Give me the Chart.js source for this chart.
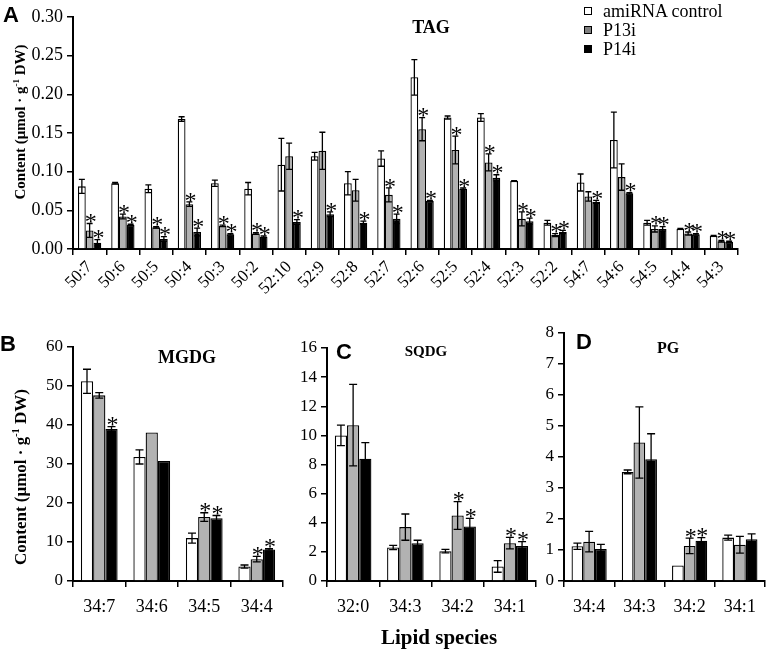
<!DOCTYPE html>
<html>
<head>
<meta charset="utf-8">
<script src="https://cdn.jsdelivr.net/npm/chart.js@4.4.0/dist/chart.umd.min.js"></script>
<style>
  body { margin: 0; background: #fff; }
  #wrap { position: relative; width: 768px; height: 655px; overflow: hidden; font-family: "Liberation Serif", serif; color: #000; }
  canvas { position: absolute; }
  .lbl { position: absolute; white-space: nowrap; line-height: 1; }
  .panel { font-family: "Liberation Sans", Arial, sans-serif; font-weight: bold; font-size: 22px; }
  .ttl { font-weight: bold; transform: translate(-50%, -50%); }
  .ytitle { font-weight: bold; transform: translate(-50%, -50%) rotate(-90deg); }
  .ytitle sup { font-size: 0.6em; vertical-align: 0.6em; }
  .leg { font-size: 18px; transform: translateY(-50%); }
  .sw { display: inline-block; width: 6px; height: 6px; border: 1.5px solid #000; margin-right: 11px; vertical-align: 2px; }
</style>
</head>
<body>
<div id="wrap">
  <canvas id="tagChart" width="768" height="300" style="left:0;top:0"></canvas>
  <canvas id="mgdgChart" width="300" height="355" style="left:0;top:300px"></canvas>
  <canvas id="sqdgChart" width="260" height="355" style="left:283px;top:300px"></canvas>
  <canvas id="pgChart" width="228" height="355" style="left:540px;top:300px"></canvas>

  <div class="lbl panel" style="left:3px;top:4px">A</div>
  <div class="lbl panel" style="left:0px;top:333px">B</div>
  <div class="lbl panel" style="left:336px;top:341px">C</div>
  <div class="lbl panel" style="left:576px;top:331px">D</div>

  <div class="lbl ttl" style="left:431px;top:27px;font-size:18px">TAG</div>
  <div class="lbl ttl" style="left:187px;top:357px;font-size:18px">MGDG</div>
  <div class="lbl ttl" style="left:426px;top:351px;font-size:15px">SQDG</div>
  <div class="lbl ttl" style="left:668px;top:348px;font-size:16px">PG</div>

  <div class="lbl ytitle" style="left:20px;top:122px;font-size:15px">Content (μmol · g<sup>-1</sup> DW)</div>
  <div class="lbl ytitle" style="left:20px;top:477px;font-size:17px">Content (μmol · g<sup>-1</sup> DW)</div>
  <div class="lbl ttl" style="left:439px;top:637px;font-size:21px">Lipid species</div>

  <div class="lbl leg" style="left:584px;top:11px"><span class="sw" style="background:#fff"></span>amiRNA control</div>
  <div class="lbl leg" style="left:584px;top:30px"><span class="sw" style="background:#808080"></span>P13i</div>
  <div class="lbl leg" style="left:584px;top:49px"><span class="sw" style="background:#000"></span>P14i</div>
</div>
<script>
// A: TAG
const tagLabels = ['50:7', '50:6', '50:5', '50:4', '50:3', '50:2', '52:10', '52:9', '52:8', '52:7',
    '52:6', '52:5', '52:4', '52:3', '52:2', '54:7', '54:6', '54:5', '54:4', '54:3'];
const tagControl = [0.081, 0.085, 0.078, 0.168, 0.085, 0.078, 0.109, 0.120, 0.085, 0.117,
    0.222, 0.170, 0.170, 0.088, 0.034, 0.086, 0.141, 0.034, 0.026, 0.017];
const tagControlErr = [0.009, 0.001, 0.005, 0.003, 0.004, 0.008, 0.034, 0.005, 0.015, 0.010,
    0.023, 0.002, 0.005, 0.0005, 0.003, 0.011, 0.036, 0.003, 0.0005, 0.0005];
const tagP13 = [0.024, 0.042, 0.028, 0.058, 0.030, 0.020, 0.120, 0.127, 0.076, 0.070,
    0.155, 0.128, 0.112, 0.039, 0.018, 0.068, 0.093, 0.026, 0.020, 0.010];
const tagP13Err = [0.009, 0.003, 0.001, 0.003, 0.001, 0.001, 0.017, 0.024, 0.014, 0.009,
    0.015, 0.018, 0.011, 0.009, 0.002, 0.006, 0.017, 0.004, 0.002, 0.001];
const tagP14 = [0.008, 0.031, 0.013, 0.022, 0.019, 0.016, 0.035, 0.045, 0.034, 0.039,
    0.062, 0.078, 0.092, 0.036, 0.022, 0.061, 0.072, 0.026, 0.019, 0.009];
const tagP14Err = [0.004, 0.001, 0.003, 0.005, 0.001, 0.001, 0.003, 0.003, 0.002, 0.006,
    0.001, 0.001, 0.004, 0.004, 0.002, 0.002, 0.001, 0.003, 0.001, 0.001];
const tagP13Sig = [1, 1, 1, 1, 1, 1, 0, 0, 0, 1, 1, 1, 1, 1, 1, 0, 0, 1, 1, 1];
const tagP14Sig = [1, 1, 1, 1, 1, 1, 1, 1, 1, 1, 1, 1, 1, 1, 1, 1, 1, 1, 1, 1];

// B: MGDG
const mgdgLabels = ['34:7', '34:6', '34:5', '34:4'];
const mgdgControl = [51.2, 31.8, 11.0, 3.7];
const mgdgControlErr = [3.1, 1.8, 1.3, 0.4];
const mgdgP13 = [47.6, 38.1, 16.4, 5.6];
const mgdgP13Err = [0.7, 0, 1.1, 0.7];
const mgdgP14 = [39.0, 30.8, 16.1, 8.1];
const mgdgP14Err = [0.6, 0, 0.7, 0.2];
const mgdgP13Sig = [0, 0, 1, 1];
const mgdgP14Sig = [1, 0, 1, 1];

// C: SQDG
const sqdgLabels = ['32:0', '34:3', '34:2', '34:1'];
const sqdgControl = [10.0, 2.3, 2.05, 1.0];
const sqdgControlErr = [0.7, 0.15, 0.12, 0.4];
const sqdgP13 = [10.7, 3.7, 4.5, 2.6];
const sqdgP13Err = [2.8, 0.9, 0.95, 0.4];
const sqdgP14 = [8.4, 2.6, 3.75, 2.4];
const sqdgP14Err = [1.1, 0.2, 0.55, 0.3];
const sqdgP13Sig = [0, 0, 1, 1];
const sqdgP14Sig = [0, 0, 1, 1];

// D: PG
const pgLabels = ['34:4', '34:3', '34:2', '34:1'];
const pgControl = [1.12, 3.52, 0.5, 1.4];
const pgControlErr = [0.1, 0.06, 0, 0.08];
const pgP13 = [1.27, 4.47, 1.13, 1.17];
const pgP13Err = [0.33, 1.15, 0.25, 0.27];
const pgP14 = [1.03, 3.93, 1.3, 1.35];
const pgP14Err = [0.15, 0.82, 0.1, 0.17];
const pgP13Sig = [0, 0, 1, 0];
const pgP14Sig = [0, 0, 1, 0];

const noSig = n => new Array(n).fill(0);

// error bars + significance stars, drawn from the bar elements and y scale
const errorBarPlugin = {
    id: 'errorBars',
    afterDatasetsDraw(chart, args, opts) {
        const ctx = chart.ctx;
        const yScale = chart.scales.y;
        chart.data.datasets.forEach((ds, i) => {
            const meta = chart.getDatasetMeta(i);
            meta.data.forEach((bar, j) => {
                const v = ds.data[j];
                const e = ds.errors[j];
                const top = yScale.getPixelForValue(v + e);
                const bottom = yScale.getPixelForValue(Math.max(v - e, 0));
                const half = opts.cap / 2;
                ctx.save();
                ctx.strokeStyle = '#000';
                ctx.lineWidth = 1.3;
                if (e > 0) {
                    ctx.beginPath();
                    ctx.moveTo(bar.x, top);
                    ctx.lineTo(bar.x, bottom);
                    ctx.moveTo(bar.x - half, top);
                    ctx.lineTo(bar.x + half, top);
                    ctx.moveTo(bar.x - half, bottom);
                    ctx.lineTo(bar.x + half, bottom);
                    ctx.stroke();
                }
                if (ds.sig[j]) {
                    ctx.fillStyle = '#000';
                    ctx.font = opts.star + 'px "Liberation Serif"';
                    ctx.textAlign = 'center';
                    ctx.textBaseline = 'alphabetic';
                    ctx.fillText('*', bar.x + 1, top - 2 + opts.star * 0.32);
                }
                ctx.restore();
            });
        });
    }
};

function createChart(canvasId, labels, series, yMax, yStep, digits, box) {
    const colors = ['#ffffff', '#b2b2b2', '#000000'];
    const names = ['amiRNA control', 'P13i', 'P14i'];
    const canvas = document.getElementById(canvasId);
    return new Chart(canvas.getContext('2d'), {
        type: 'bar',
        data: {
            labels: labels,
            datasets: series.map((s, i) => ({
                label: names[i],
                data: s.values,
                errors: s.errors,
                sig: s.sig,
                backgroundColor: colors[i],
                borderColor: '#000',
                borderWidth: 1.3,
                categoryPercentage: 0.7,
                barPercentage: 1.0
            }))
        },
        options: {
            responsive: false,
            animation: false,
            devicePixelRatio: 1,
            layout: { padding: { top: box.top, right: box.right, left: 0, bottom: 0 } },
            plugins: {
                legend: { display: false },
                tooltip: { enabled: false },
                errorBars: { cap: box.cap, star: box.star }
            },
            scales: {
                x: {
                    grid: { drawOnChartArea: false, drawTicks: true, tickLength: 6, color: '#000', lineWidth: 1.5, offset: true },
                    border: { color: '#000', width: 2 },
                    ticks: {
                        color: '#000',
                        font: { family: 'Liberation Serif', size: box.xFont },
                        maxRotation: box.rotate,
                        minRotation: box.rotate,
                        padding: box.xPad,
                        autoSkip: false
                    },
                    afterFit: s => { s.height = box.xHeight; }
                },
                y: {
                    min: 0,
                    max: yMax,
                    grid: { drawOnChartArea: false, drawTicks: true, tickLength: 6, color: '#000', lineWidth: 1.5 },
                    border: { color: '#000', width: 2 },
                    ticks: {
                        stepSize: yStep,
                        color: '#000',
                        font: { family: 'Liberation Serif', size: box.yFont },
                        padding: 4,
                        callback: v => v.toFixed(digits)
                    },
                    afterFit: s => { s.width = box.yWidth; }
                }
            }
        },
        plugins: [errorBarPlugin]
    });
}

createChart('tagChart', tagLabels, [
    { values: tagControl, errors: tagControlErr, sig: noSig(tagLabels.length) },
    { values: tagP13, errors: tagP13Err, sig: tagP13Sig },
    { values: tagP14, errors: tagP14Err, sig: tagP14Sig }
], 0.30, 0.05, 2, { top: 17, right: 30, yWidth: 73, xHeight: 51, xFont: 17, rotate: 45, xPad: 2, yFont: 18, cap: 6, star: 24 });

createChart('mgdgChart', mgdgLabels, [
    { values: mgdgControl, errors: mgdgControlErr, sig: noSig(4) },
    { values: mgdgP13, errors: mgdgP13Err, sig: mgdgP13Sig },
    { values: mgdgP14, errors: mgdgP14Err, sig: mgdgP14Sig }
], 60, 10, 0, { top: 47, right: 17, yWidth: 73, xHeight: 74, xFont: 18, rotate: 0, xPad: 9, yFont: 17, cap: 8, star: 24 });

createChart('sqdgChart', sqdgLabels, [
    { values: sqdgControl, errors: sqdgControlErr, sig: noSig(4) },
    { values: sqdgP13, errors: sqdgP13Err, sig: sqdgP13Sig },
    { values: sqdgP14, errors: sqdgP14Err, sig: sqdgP14Sig }
], 16, 2, 0, { top: 48, right: 7, yWidth: 44, xHeight: 74, xFont: 18, rotate: 0, xPad: 9, yFont: 17, cap: 8, star: 24 });

createChart('pgChart', pgLabels, [
    { values: pgControl, errors: pgControlErr, sig: noSig(4) },
    { values: pgP13, errors: pgP13Err, sig: pgP13Sig },
    { values: pgP14, errors: pgP14Err, sig: pgP14Sig }
], 8, 1, 0, { top: 33, right: 3, yWidth: 24, xHeight: 74, xFont: 18, rotate: 0, xPad: 9, yFont: 17, cap: 8, star: 24 });
</script>
</body>
</html>
